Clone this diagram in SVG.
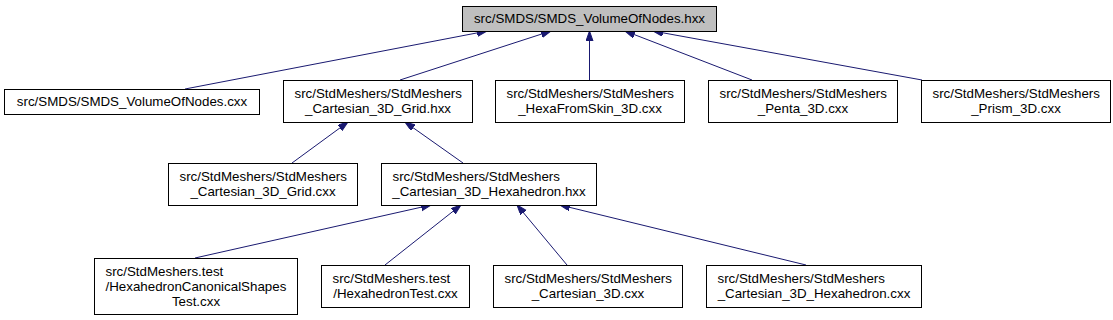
<svg xmlns="http://www.w3.org/2000/svg" width="1113" height="320" viewBox="0 0 1113 320">
<style>
.n rect{fill:#ffffff;stroke:#000000;stroke-width:1}
.n.root rect{fill:#bfbfbf}
.n text{font-family:"Liberation Sans",Arial,sans-serif;font-size:13.33px;fill:#000000}
.c{text-anchor:middle}
.e line{stroke:#191970;stroke-width:1;marker-end:url(#ah)}
</style>
<defs>
<marker id="ah" markerUnits="userSpaceOnUse" markerWidth="11" markerHeight="8" refX="10" refY="3.5" orient="auto" viewBox="0 0 11 8">
<path d="M0,0 L10,3.5 L0,7 z" fill="#191970" stroke="#191970" stroke-width="1"/>
</marker>
</defs>
<g id="edges" class="e">
<line x1="185" y1="89" x2="487" y2="31"/>
<line x1="400" y1="80" x2="551" y2="31"/>
<line x1="589.5" y1="80" x2="589.5" y2="31"/>
<line x1="752" y1="80" x2="625" y2="31"/>
<line x1="922" y1="80" x2="653" y2="31"/>
<line x1="292" y1="163" x2="348" y2="122"/>
<line x1="463" y1="163" x2="405" y2="122"/>
<line x1="195" y1="258" x2="431" y2="205"/>
<line x1="385" y1="265" x2="461" y2="205"/>
<line x1="567" y1="265" x2="517" y2="205"/>
<line x1="806" y1="265" x2="560" y2="205"/>
</g>
<g id="root" class="n root">
<rect x="462.5" y="6.5" width="254" height="25"/>
<text class="c" x="589.5" y="23">src/SMDS/SMDS_VolumeOfNodes.hxx</text>
</g>
<g id="smds_cxx" class="n">
<rect x="4.5" y="89.5" width="255" height="25"/>
<text class="c" x="132" y="106">src/SMDS/SMDS_VolumeOfNodes.cxx</text>
</g>
<g id="grid_hxx" class="n">
<rect x="283.5" y="80.5" width="189" height="42"/>
<text x="294.5" y="98">src/StdMeshers/StdMeshers</text>
<text class="c" x="378" y="113">_Cartesian_3D_Grid.hxx</text>
</g>
<g id="hexafromskin" class="n">
<rect x="495.5" y="80.5" width="189" height="42"/>
<text x="506.5" y="98">src/StdMeshers/StdMeshers</text>
<text class="c" x="590" y="113">_HexaFromSkin_3D.cxx</text>
</g>
<g id="penta" class="n">
<rect x="708.5" y="80.5" width="189" height="42"/>
<text x="719.5" y="98">src/StdMeshers/StdMeshers</text>
<text class="c" x="803" y="113">_Penta_3D.cxx</text>
</g>
<g id="prism" class="n">
<rect x="921.5" y="80.5" width="189" height="42"/>
<text x="932.5" y="98">src/StdMeshers/StdMeshers</text>
<text class="c" x="1016" y="113">_Prism_3D.cxx</text>
</g>
<g id="grid_cxx" class="n">
<rect x="168.5" y="163.5" width="189" height="42"/>
<text x="179.5" y="181">src/StdMeshers/StdMeshers</text>
<text class="c" x="263" y="196">_Cartesian_3D_Grid.cxx</text>
</g>
<g id="hexahedron_hxx" class="n">
<rect x="381.5" y="163.5" width="215" height="42"/>
<text x="392.5" y="181">src/StdMeshers/StdMeshers</text>
<text class="c" x="489" y="196">_Cartesian_3D_Hexahedron.hxx</text>
</g>
<g id="canonical" class="n">
<rect x="94.5" y="258.5" width="203" height="56"/>
<text x="105.5" y="276">src/StdMeshers.test</text>
<text x="105.5" y="291">/HexahedronCanonicalShapes</text>
<text class="c" x="196" y="306">Test.cxx</text>
</g>
<g id="hexahedrontest" class="n">
<rect x="321.5" y="265.5" width="148" height="42"/>
<text x="332.5" y="283">src/StdMeshers.test</text>
<text class="c" x="395.5" y="298">/HexahedronTest.cxx</text>
</g>
<g id="cartesian_3d" class="n">
<rect x="493.5" y="265.5" width="189" height="42"/>
<text x="504.5" y="283">src/StdMeshers/StdMeshers</text>
<text class="c" x="588" y="298">_Cartesian_3D.cxx</text>
</g>
<g id="hexahedron_cxx" class="n">
<rect x="706.5" y="265.5" width="215" height="42"/>
<text x="717.5" y="283">src/StdMeshers/StdMeshers</text>
<text class="c" x="814" y="298">_Cartesian_3D_Hexahedron.cxx</text>
</g>
</svg>
